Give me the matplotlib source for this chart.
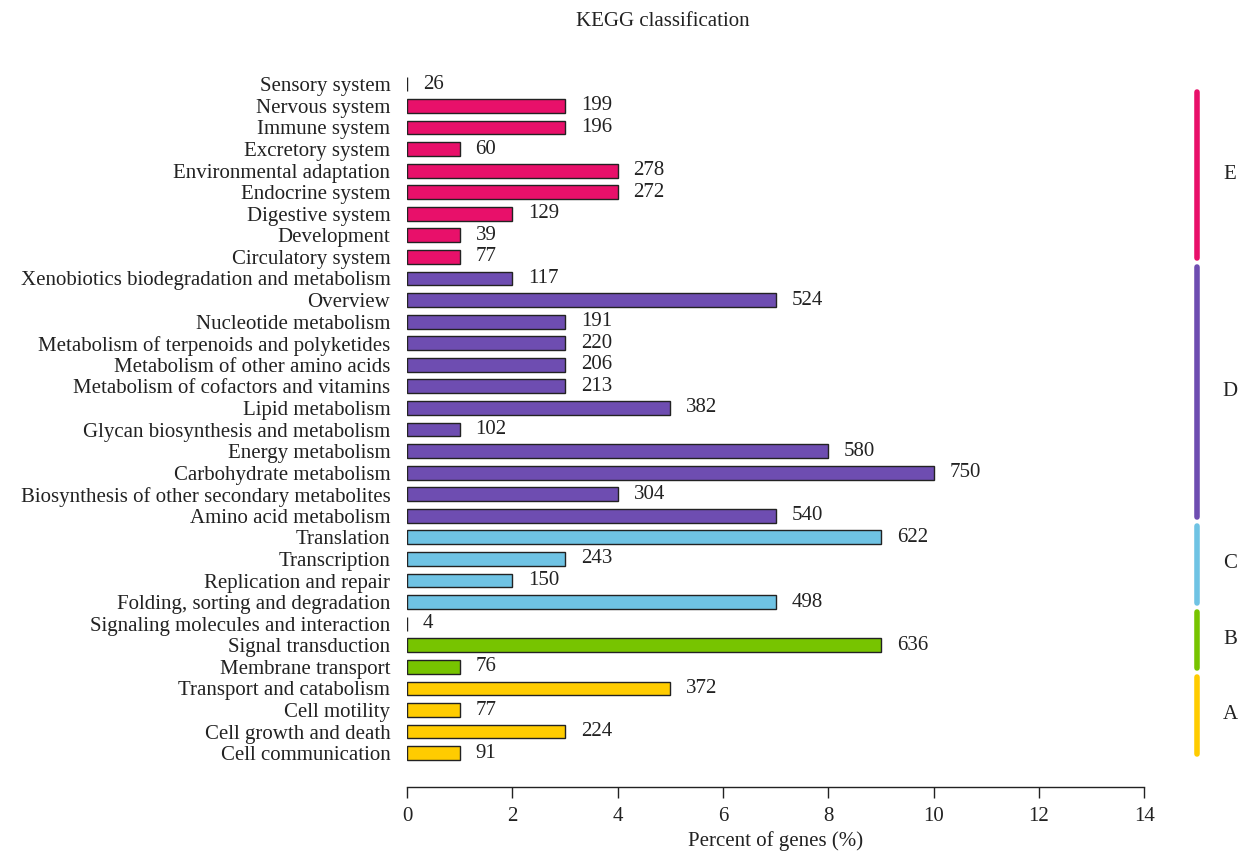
import matplotlib.pyplot as plt

plt.rcParams['font.family'] = ['Liberation Serif', 'DejaVu Serif']

# KEGG pathways, listed from the bottom of the chart upwards
pathways = [
    "Cell communication", "Cell growth and death", "Cell motility",
    "Transport and catabolism",
    "Membrane transport", "Signal transduction",
    "Signaling molecules and interaction",
    "Folding, sorting and degradation", "Replication and repair",
    "Transcription", "Translation",
    "Amino acid metabolism", "Biosynthesis of other secondary metabolites",
    "Carbohydrate metabolism", "Energy metabolism",
    "Glycan biosynthesis and metabolism", "Lipid metabolism",
    "Metabolism of cofactors and vitamins", "Metabolism of other amino acids",
    "Metabolism of terpenoids and polyketides", "Nucleotide metabolism",
    "Overview", "Xenobiotics biodegradation and metabolism",
    "Circulatory system", "Development", "Digestive system",
    "Endocrine system", "Environmental adaptation", "Excretory system",
    "Immune system", "Nervous system", "Sensory system",
]
gene_counts = [91, 224, 77, 372,
               76, 636, 4,
               498, 150, 243, 622,
               540, 304, 750, 580, 102, 382, 213, 206, 220, 191, 524, 117,
               77, 39, 129, 272, 278, 60, 196, 199, 26]
percent = [1, 3, 1, 5,
           1, 9, 0,
           7, 2, 3, 9,
           7, 4, 10, 8, 1, 5, 3, 3, 3, 3, 7, 2,
           1, 1, 2, 4, 4, 1, 3, 3, 0]
group_names = ["A", "B", "C", "D", "E"]
group_sizes = [4, 3, 4, 12, 9]
group_colors = ["#ffcc00", "#77c400", "#6fc3e4", "#6e4db1", "#e8106a"]

colors = []
for c, n in zip(group_colors, group_sizes):
    colors += [c] * n

fig = plt.figure(figsize=(12.39, 8.52), dpi=100)
ax = fig.add_axes([0.3285, 0.076, 0.595, 0.86])

y = list(range(len(pathways)))
ax.barh(y, percent, height=0.64, color=colors, edgecolor="#222222",
        linewidth=1.0)
for yi, p, n in zip(y, percent, gene_counts):
    ax.text(p + 0.3, yi, str(n), va="center", ha="left", fontsize=15,
            color="#222222")

ax.set_yticks(y)
ax.set_yticklabels(pathways, fontsize=15, color="#222222")
ax.tick_params(axis="y", length=0, pad=12)
ax.set_xlim(0, 14)
ax.set_ylim(-1.58, 32.38)
ax.set_xticks(range(0, 15, 2))
ax.tick_params(axis="x", labelsize=15, length=8, width=1, pad=6,
               colors="#222222")
for s in ["top", "right", "left"]:
    ax.spines[s].set_visible(False)
ax.spines["bottom"].set_linewidth(1)
ax.spines["bottom"].set_color("#222222")
ax.set_xlabel("Percent of genes (%)", fontsize=15, labelpad=4,
              color="#222222")

# group brackets on the right
start = 0
for name, n, c in zip(group_names, group_sizes, group_colors):
    lo, hi = start, start + n - 1
    top = hi + 0.55 if name != "E" else hi - 0.37
    ax.plot([15.0, 15.0], [lo - 0.04, top], color=c, lw=4,
            solid_capstyle="round", clip_on=False)
    ax.text(15.63, (lo + top) / 2, name, ha="center", va="center",
            fontsize=15, color="#222222")
    start += n

fig.text(0.535, 0.975, "KEGG classification", ha="center", va="center",
         fontsize=15, color="#222222")

fig.savefig("out.png", dpi=100)
